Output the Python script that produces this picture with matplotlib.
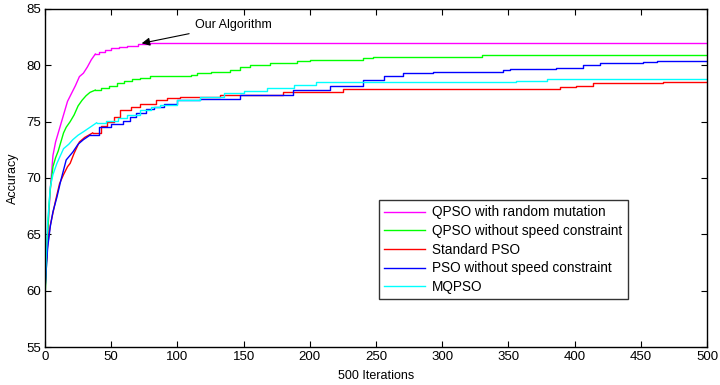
"""Accuracy vs iterations for the PSO / QPSO variants (MATLAB-style figure)."""

import matplotlib
matplotlib.use("Agg")
import matplotlib.pyplot as plt

plt.rcParams["font.family"] = ["Liberation Sans", "DejaVu Sans"]
plt.rcParams["font.size"] = 9.5

labels = [
    "QPSO with random mutation",
    "QPSO without speed constraint",
    "Standard PSO",
    "PSO without speed constraint",
    "MQPSO",
]
colors = ["#ff00ff", "#00ff00", "#ff0000", "#0000ff", "#00ffff"]

# --- best-so-far accuracy curves -----------------------------------------
qpso_mut_it = [0, 1, 2, 3, 4, 5, 6, 8, 10, 12, 14, 17, 20, 23, 26, 29, 32,
               35, 38, 41, 45, 50, 56, 62, 70, 79, 500]
qpso_mut_acc = [60.0, 62.5, 65.0, 67.0, 69.0, 70.5, 72.0, 73.2, 74.0, 74.8,
                75.6, 76.8, 77.5, 78.2, 79.0, 79.3, 79.85, 80.5, 81.0, 81.2,
                81.35, 81.5, 81.6, 81.75, 81.85, 82.0, 82.0]

qpso_nospeed_it = [0, 1, 2, 3, 4, 5, 6, 8, 10, 12, 14, 16, 19, 22, 25, 28,
                   31, 34, 38, 42, 48, 54, 60, 66, 72, 79, 110, 115, 125,
                   140, 147, 155, 170, 190, 200, 240, 248, 330, 500]
qpso_nospeed_acc = [59.3, 62.0, 65.0, 67.5, 69.0, 70.0, 71.0, 71.8, 72.4,
                    73.2, 74.0, 74.5, 75.0, 75.6, 76.4, 76.9, 77.3, 77.6,
                    77.8, 78.0, 78.2, 78.4, 78.6, 78.75, 78.9, 79.05, 79.1,
                    79.3, 79.4, 79.6, 79.85, 80.0, 80.2, 80.35, 80.5, 80.65,
                    80.75, 80.9, 80.9]

pso_it = [0, 1, 2, 3, 4, 6, 8, 11, 14, 17, 19, 22, 26, 30, 36, 42, 47, 52,
          57, 65, 72, 84, 92, 102, 132, 180, 225, 389, 401, 414, 467, 500]
pso_acc = [61.0, 62.5, 64.0, 65.0, 65.8, 66.9, 68.0, 69.5, 70.3, 71.0, 71.3,
           72.2, 73.2, 73.6, 74.0, 74.6, 75.0, 75.4, 76.0, 76.3, 76.6, 76.9,
           77.1, 77.2, 77.4, 77.6, 77.9, 78.1, 78.2, 78.4, 78.5, 78.5]

pso_nospeed_it = [0, 1, 2, 4, 6, 9, 12, 16, 21, 25, 29, 34, 41, 50, 59, 64,
                  69, 76, 82, 90, 100, 117, 147, 187, 215, 240, 256, 270,
                  293, 346, 351, 386, 406, 419, 452, 462, 500]
pso_nospeed_acc = [60.0, 62.0, 63.8, 65.7, 67.0, 68.3, 69.8, 71.6, 72.3,
                   73.0, 73.4, 73.8, 74.5, 74.8, 75.1, 75.4, 75.8, 76.1,
                   76.3, 76.6, 76.9, 77.0, 77.4, 77.8, 78.2, 78.7, 79.05,
                   79.35, 79.45, 79.6, 79.7, 79.8, 80.0, 80.2, 80.25, 80.4,
                   80.4]

mqpso_it = [0, 1, 2, 4, 6, 9, 14, 18, 21, 25, 29, 34, 39, 46, 55, 62, 72,
            80, 87, 100, 117, 135, 150, 168, 188, 205, 356, 379, 500]
mqpso_acc = [60.0, 63.0, 66.0, 69.2, 70.3, 71.3, 72.6, 73.0, 73.4, 73.8,
             74.1, 74.5, 74.9, 75.1, 75.3, 75.6, 76.0, 76.3, 76.5, 76.9,
             77.2, 77.5, 77.7, 78.0, 78.25, 78.5, 78.65, 78.75, 78.8]

series = [
    (qpso_mut_it, qpso_mut_acc),
    (qpso_nospeed_it, qpso_nospeed_acc),
    (pso_it, pso_acc),
    (pso_nospeed_it, pso_nospeed_acc),
    (mqpso_it, mqpso_acc),
]

# Early iterations are drawn point-to-point, the plateau phase as steps.
SMOOTH_UNTIL = 40

fig = plt.figure(figsize=(7.2, 3.85), dpi=100)
ax = fig.add_axes([0.0625, 0.0987, 0.9195, 0.878])

for (it, acc), color, label in zip(series, colors, labels):
    k = max(i for i, x in enumerate(it) if x <= SMOOTH_UNTIL)
    ax.plot(it[:k + 1], acc[:k + 1], color=color, linewidth=1.0,
            label=label)
    ax.plot(it[k:], acc[k:], color=color, linewidth=1.0,
            drawstyle="steps-post")

ax.set_xlim(0, 500)
ax.set_ylim(55, 85)
ax.set_xticks(range(0, 501, 50))
ax.set_yticks(range(55, 86, 5))
ax.tick_params(direction="in", top=True, right=True, length=4, width=0.8,
               pad=3, labelsize=9.5)
for spine in ax.spines.values():
    spine.set_linewidth(1.0)

ax.set_xlabel("500 Iterations", fontsize=9, labelpad=5)
ax.set_ylabel("Accuracy", fontsize=9, labelpad=5)

# Pointer to the proposed method's curve.
ax.annotate(
    "Our Algorithm",
    xy=(73, 81.95),
    xytext=(113, 83.6),
    fontsize=9,
    va="center",
    ha="left",
    arrowprops=dict(arrowstyle="-|>", color="black", lw=0.8,
                    mutation_scale=12, shrinkA=2, shrinkB=0),
)

leg = ax.legend(
    loc="upper left",
    bbox_to_anchor=(0.5045, 0.435),
    fontsize=9.8,
    frameon=True,
    fancybox=False,
    handlelength=3.0,
    handletextpad=0.5,
    labelspacing=0.34,
    borderpad=0.4,
    borderaxespad=0,
)
leg.get_frame().set_edgecolor("black")
leg.get_frame().set_linewidth(1.0)
for line in leg.get_lines():
    line.set_linewidth(1.0)

fig.savefig("out.png", dpi=100)
